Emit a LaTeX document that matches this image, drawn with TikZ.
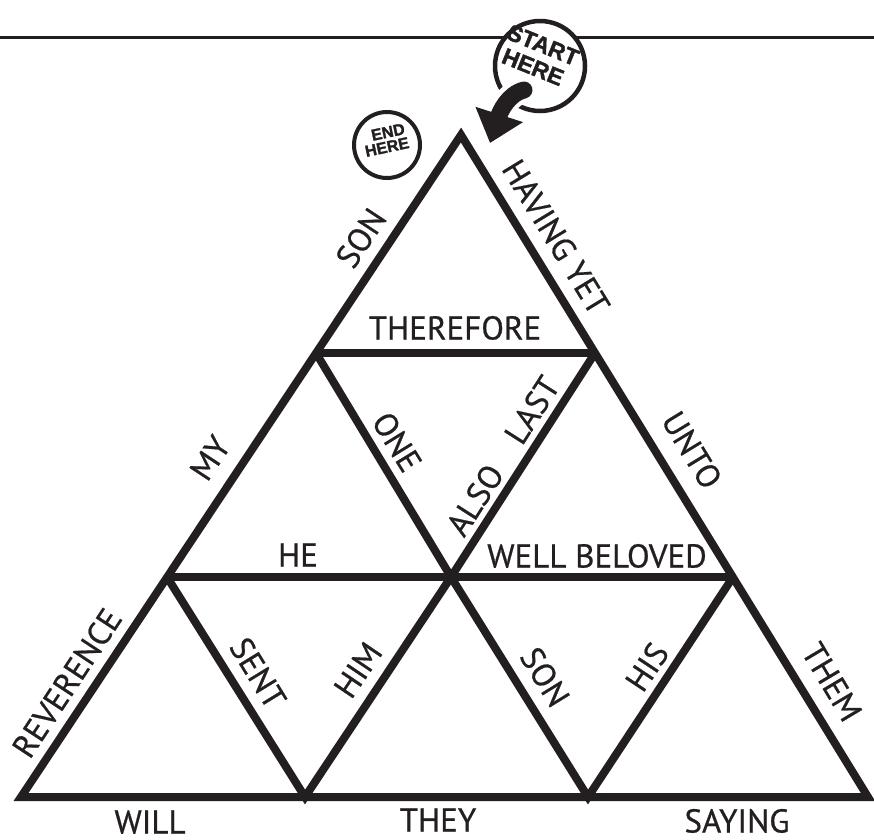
\documentclass[tikz,border=0pt]{standalone}
\usepackage{fontspec}
\setmainfont{PT Sans}[FakeBold=0.6]
\newfontfamily\badgefont{Liberation Sans}[BoldFeatures={FakeBold=1.6}]
\usetikzlibrary{arrows.meta}
\definecolor{ink}{RGB}{35,31,32}
\tikzset{
  edge/.style={draw=ink,line width=8pt,line join=miter},
  lbl/.style={font=\fontsize{33}{33}\selectfont,text=ink,inner sep=0pt,text height=23pt,text depth=0pt},
  badge/.style={draw=ink,fill=white,line width=4pt},
  badgetext/.style={text=ink,inner sep=0pt}
}
\begin{document}
\begin{tikzpicture}[x=1pt,y=-1pt]
\fill[white] (0,0) rectangle (874,839);
\useasboundingbox (0,0) rectangle (874,839);
% vertices
\coordinate (A) at (461,135);
\coordinate (P1) at (316,353);
\coordinate (Q1) at (595,353);
\coordinate (P2) at (167,577);
\coordinate (M2) at (451,577);
\coordinate (Q2) at (733,577);
\coordinate (B0) at (21,797);
\coordinate (B1) at (305,797);
\coordinate (B2) at (588,797);
\coordinate (B3) at (868,797);
\coordinate (TL) at (0,37);
\coordinate (TR) at (874,37);
% top rule
\draw[ink,line width=3pt] (TL) -- (TR);
% triangle grid
\draw[edge] (A) -- (B0) -- (B3) -- cycle;
\draw[edge] (P1) -- (Q1);
\draw[edge] (P2) -- (Q2);
\draw[edge] (P1) -- (M2) -- (Q1);
\draw[edge] (P2) -- (B1) -- (M2) -- (B2) -- (Q2);
% labels
\node[lbl] (therefore) at (455,328) {THEREFORE};
\node[lbl,rotate=56.6] (son1) at (361,238) {SON};
\node[lbl,rotate=-58.6] (havingyet) at (556,237) {HAVING YET};
\node[lbl,rotate=56.6] (my) at (210,458) {MY};
\node[lbl,rotate=-58.4] (one) at (397,442) {ONE};
\node[lbl] (he) at (298,555) {HE};
\node[lbl,rotate=57.4] (last) at (532,410) {LAST};
\node[lbl,rotate=57.4] (also) at (475,500) {ALSO};
\node[lbl] (wellbeloved) at (597,556) {WELL BELOVED};
\node[lbl,rotate=-58.6] (unto) at (692,450) {UNTO};
\node[lbl,rotate=56.6] (reverence) at (67,683) {REVERENCE};
\node[lbl,rotate=-58.5] (sent) at (258,673) {SENT};
\node[lbl,rotate=55.9] (him) at (358,670) {HIM};
\node[lbl,rotate=-58.3] (son2) at (545,677) {SON};
\node[lbl,rotate=56.3] (his) at (647,667) {HIS};
\node[lbl,rotate=-59.2] (them) at (832,682) {THEM};
\node[lbl] (will) at (150,822) {WILL};
\node[lbl] (they) at (438,820) {THEY};
\node[lbl] (saying) at (737,821) {SAYING};
% END HERE badge
\node[badge,circle,minimum size=66pt,inner sep=0pt,line width=4pt] (endc) at (387,145) {};
\node[badgetext,rotate=12,font=\badgefont\bfseries\fontsize{16}{16}\selectfont] (endt1) at (388,132) {END};
\node[badgetext,rotate=12,font=\badgefont\bfseries\fontsize{16}{16}\selectfont] (endt2) at (387,147) {HERE};
% START HERE badge
\node[badge,circle,minimum size=90pt,inner sep=0pt,line width=4.5pt] (startc) at (540,66) {};
\node[badgetext,rotate=-22,font=\badgefont\bfseries\fontsize{23}{23}\selectfont] (startt1) at (543,45) {START};
\node[badgetext,rotate=-22,font=\badgefont\bfseries\fontsize{23}{23}\selectfont] (startt2) at (533,67) {HERE};
\coordinate (s0) at (524,90);
\coordinate (tip) at (490,143);
\draw[white,line width=26pt] (s0) .. controls (508,94) and (502,108) .. (499,116);
\draw[ink,line width=17pt,line cap=round,-{Triangle[length=30pt,width=48pt]}] (s0) .. controls (508,94) and (500,112) .. (tip);
\end{tikzpicture}
\end{document}
